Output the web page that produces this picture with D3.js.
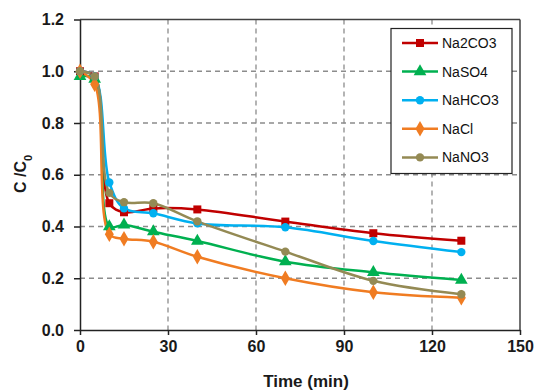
<!DOCTYPE html>
<html>
<head>
<meta charset="utf-8">
<script src="https://cdn.jsdelivr.net/npm/d3@7"></script>
<style>
  body { margin: 0; background: #fff; }
  text { font-family: "Liberation Sans", Arial, sans-serif; }
</style>
</head>
<body>
<div id="chart"></div>
<script>
// data
const times = [0, 5, 10, 15, 25, 40, 70, 100, 130];
const na2co3 = [1.0, 0.98, 0.49, 0.455, 0.47, 0.466, 0.419, 0.374, 0.345];
const naso4 = [0.98, 0.97, 0.40, 0.406, 0.38, 0.344, 0.264, 0.223, 0.193];
const nahco3 = [1.0, 0.98, 0.57, 0.47, 0.451, 0.412, 0.397, 0.344, 0.301];
const nacl = [1.0, 0.95, 0.37, 0.353, 0.341, 0.283, 0.2, 0.146, 0.125];
const nano3 = [1.0, 0.98, 0.53, 0.494, 0.49, 0.42, 0.303, 0.19, 0.138];
const xTicks = [0, 30, 60, 90, 120, 150];
const yTicks = [0, 0.2, 0.4, 0.6, 0.8, 1.0, 1.2];

const series = [
  { name: 'Na2CO3', values: na2co3, color: '#C00000', symbol: d3.symbolSquare, size: 64 },
  { name: 'NaSO4', values: naso4, color: '#00B050', symbol: d3.symbolTriangle, size: 70 },
  { name: 'NaHCO3', values: nahco3, color: '#00B0F0', symbol: d3.symbolCircle, size: 55 },
  { name: 'NaCl', values: nacl, color: '#F07C22', symbol: d3.symbolDiamond, size: 70 },
  { name: 'NaNO3', values: nano3, color: '#948A54', symbol: d3.symbolCircle, size: 55 },
];

const W = 536, H = 392;
const margin = { top: 19.5, right: 16, bottom: 62, left: 80 };
const width = W - margin.left - margin.right;
const height = H - margin.top - margin.bottom;

const svg = d3.select('#chart')
  .append('svg')
  .attr('width', W)
  .attr('height', H);

const g = svg.append('g')
  .attr('transform', `translate(${margin.left},${margin.top})`);

const x = d3.scaleLinear().domain([0, 150]).range([0, width]);
const y = d3.scaleLinear().domain([0, 1.2]).range([height, 0]);

// grid
g.selectAll('.vgrid')
  .data(xTicks.slice(1, -1))
  .enter()
  .append('line')
  .attr('x1', (d) => x(d))
  .attr('x2', (d) => x(d))
  .attr('y1', 0)
  .attr('y2', height)
  .attr('stroke', '#8c8c8c')
  .attr('stroke-width', 1.3)
  .attr('stroke-dasharray', '5,4');

g.selectAll('.hgrid')
  .data(yTicks.slice(1, -1))
  .enter()
  .append('line')
  .attr('x1', 0)
  .attr('x2', width)
  .attr('y1', (d) => y(d))
  .attr('y2', (d) => y(d))
  .attr('stroke', '#8c8c8c')
  .attr('stroke-width', 1.3)
  .attr('stroke-dasharray', '5,4');

// frame top/right
g.append('line')
  .attr('x1', 0).attr('x2', width).attr('y1', 0).attr('y2', 0)
  .attr('stroke', '#404040').attr('stroke-width', 1.5);
g.append('line')
  .attr('x1', width).attr('x2', width).attr('y1', 0).attr('y2', height)
  .attr('stroke', '#404040').attr('stroke-width', 1.5);

// axes
const xAxis = g.append('g')
  .attr('transform', `translate(0,${height})`)
  .call(d3.axisBottom(x).tickValues(xTicks).tickSize(5).tickSizeOuter(0).tickPadding(6).tickFormat(d3.format('d')));
const yAxis = g.append('g')
  .call(d3.axisLeft(y).tickValues(yTicks).tickSize(6).tickSizeOuter(0).tickPadding(10).tickFormat(d3.format('.1f')));

[xAxis, yAxis].forEach((a) => {
  a.select('.domain').attr('stroke', '#222').attr('stroke-width', 1.5);
  a.selectAll('.tick line').attr('stroke', '#222').attr('stroke-width', 1.5);
  a.selectAll('.tick text')
    .attr('fill', '#1a1a1a')
    .style('font-size', '16px')
    .style('font-weight', 'bold');
});

// lines
const line = d3.line()
  .x((d, i) => x(times[i]))
  .y((d) => y(d))
  .curve(d3.curveCatmullRom.alpha(0.5));

series.forEach((s) => {
  g.append('path')
    .datum(s.values)
    .attr('fill', 'none')
    .attr('stroke', s.color)
    .attr('stroke-width', 2.5)
    .attr('d', line);
});

series.forEach((s) => {
  g.selectAll(null)
    .data(s.values)
    .enter()
    .append('path')
    .attr('transform', (d, i) => `translate(${x(times[i])},${y(d)})`)
    .attr('d', d3.symbol().type(s.symbol).size(s.size))
    .attr('fill', s.color);
});

// axis titles
svg.append('text')
  .attr('x', 306)
  .attr('y', 387)
  .attr('text-anchor', 'middle')
  .style('font-size', '17px')
  .style('font-weight', 'bold')
  .attr('fill', '#1a1a1a')
  .text('Time (min)');

const yt = svg.append('text')
  .attr('transform', 'translate(26,174) rotate(-90)')
  .attr('text-anchor', 'middle')
  .style('font-size', '16px')
  .style('font-weight', 'bold')
  .attr('fill', '#1a1a1a');
yt.append('tspan').text('C /C');
yt.append('tspan').attr('baseline-shift', 'sub').style('font-size', '11px').text('0');

// legend
const legend = svg.append('g').attr('transform', 'translate(391,28.5)');
legend.append('rect')
  .attr('width', 121)
  .attr('height', 145)
  .attr('fill', '#fff')
  .attr('stroke', '#222')
  .attr('stroke-width', 1.2);

series.forEach((s, i) => {
  const ly = 14.5 + i * 28.6;
  legend.append('line')
    .attr('x1', 11).attr('x2', 47).attr('y1', ly).attr('y2', ly)
    .attr('stroke', s.color).attr('stroke-width', 2.5);
  legend.append('path')
    .attr('transform', `translate(29,${ly})`)
    .attr('d', d3.symbol().type(s.symbol).size(s.size))
    .attr('fill', s.color);
  legend.append('text')
    .attr('x', 51)
    .attr('y', ly)
    .attr('dy', '0.35em')
    .style('font-size', '14px')
    .attr('fill', '#111')
    .text(s.name);
});
</script>
</body>
</html>
